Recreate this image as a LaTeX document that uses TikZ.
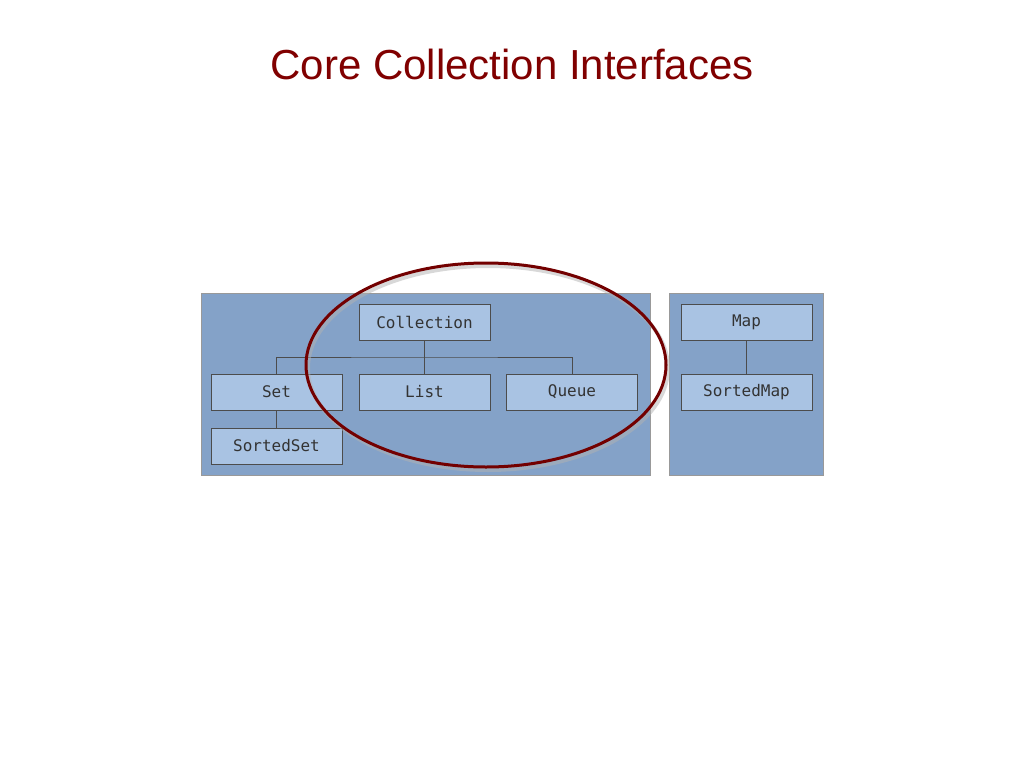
\documentclass[tikz,border=0pt]{standalone}
\usepackage{fontspec}
\setmainfont{Liberation Sans}
\newfontfamily\boxfont{DejaVu Sans Mono}
\usetikzlibrary{positioning}
\definecolor{panelblue}{HTML}{84A2C8}
\definecolor{boxblue}{HTML}{A9C3E3}
\definecolor{titlered}{HTML}{800000}
\begin{document}
\begin{tikzpicture}[x=1pt,y=-1pt,
    iface/.style={draw=black!70,line width=1pt,fill=boxblue,minimum width=131pt,minimum height=36pt,
      inner sep=0pt,font=\boxfont\fontsize{16}{18}\selectfont,text=black!80},
    tree/.style={draw=black!70,line width=1pt}]
  \useasboundingbox (0,0) rectangle (1024,768);
  \node[text=titlered,font=\fontsize{42}{48}\selectfont] (title) at (512,64) {Core Collection Interfaces};

  % panels
  \filldraw[fill=panelblue,draw=black!40] (201,293) rectangle (650,475);
  \filldraw[fill=panelblue,draw=black!40] (669,293) rectangle (823,475);

  \node[iface] (coll) at (424.5,322) {Collection};
  \node[iface] (set) at (276.5,392) {Set};
  \node[iface] (list) at (424.5,392) {List};
  \node[iface] (queue) at (572,392) {Queue};
  \node[iface] (sset) at (276.5,446) {SortedSet};
  \node[iface] (map) at (746.5,322) {Map};
  \node[iface] (smap) at (746.5,392) {SortedMap};

  \coordinate (fork) at (424.5,357);
  \draw[tree] (coll) -- (list);
  \draw[tree] (set.north) |- (fork) -| (queue.north);
  \draw[tree] (set) -- (sset);
  \draw[tree] (map) -- (smap);

  % highlight
  \draw[black!30,line width=4pt,opacity=0.5] (488,368) ellipse (180pt and 102pt);
  \draw[titlered!90!black,line width=3pt] (486,365) ellipse (180pt and 102pt);
\end{tikzpicture}
\end{document}
